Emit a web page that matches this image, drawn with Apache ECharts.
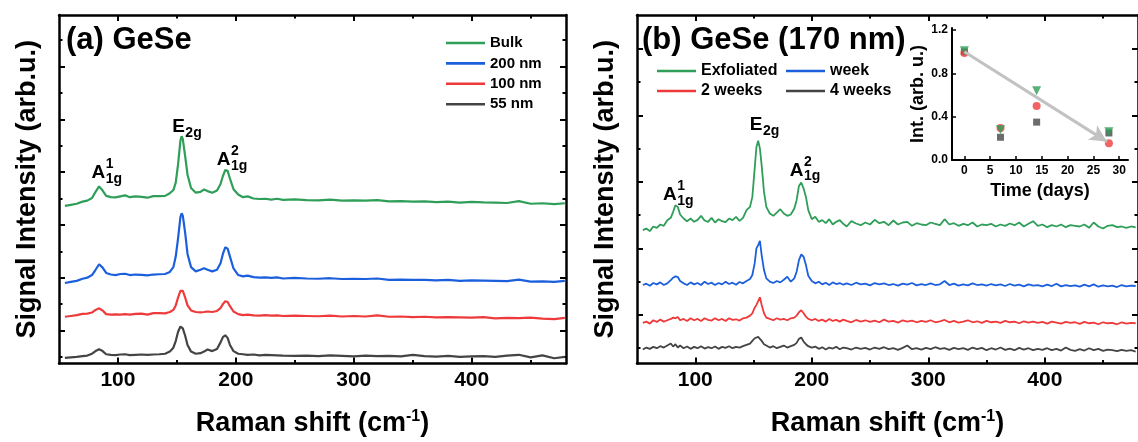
<!DOCTYPE html>
<html><head><meta charset="utf-8">
<script src="https://cdn.jsdelivr.net/npm/echarts@6/dist/echarts.min.js"></script>
<style>html,body{margin:0;padding:0;background:#fff}#c{width:1138px;height:442px}</style>
</head><body><div id="c"></div>
<script>
// ---------- Panel (a) data ----------
const shiftA = [55,60,65,70,74,78,81,84,87,90,94,98,102,106,110,115,120,125,130,135,140,144,147,149,151,153,154,155,157,159,162,166,170,173,176,180,184,187,189,191,193,195,198,202,206,210,215,220,225,230,235,240,250,260,270,280,290,300,310,320,330,340,350,360,370,380,390,400,410,420,430,440,450,460,470,479];
const bulk = [5.72,5.76,5.80,5.88,5.92,6.02,6.25,6.46,6.30,6.10,
6.05,6.04,6.08,6.12,6.05,6.08,6.06,6.03,6.09,6.09,
6.10,6.20,6.32,6.60,7.30,8.20,8.36,8.25,7.60,6.90,
6.40,6.22,6.25,6.34,6.28,6.22,6.30,6.55,6.85,7.08,
7.05,6.75,6.35,6.15,6.05,6.08,6.00,5.98,5.99,5.96,
5.99,5.95,5.97,5.94,5.93,5.96,5.92,5.93,5.92,5.94,
5.89,5.90,5.88,5.89,5.86,5.88,5.84,5.87,5.85,5.84,
5.83,5.90,5.80,5.82,5.79,5.82];
const nm200 = [2.80,2.84,2.88,2.96,3.00,3.10,3.30,3.51,3.38,3.18,
3.12,3.10,3.14,3.15,3.10,3.12,3.11,3.09,3.12,3.13,
3.14,3.22,3.40,3.80,4.50,5.30,5.44,5.35,4.70,3.90,
3.40,3.24,3.30,3.36,3.30,3.24,3.30,3.55,3.90,4.15,
4.10,3.80,3.35,3.10,3.05,3.08,3.02,3.00,3.01,2.99,
3.01,2.97,2.99,2.97,2.96,2.98,2.95,2.96,2.95,2.97,
2.92,2.93,2.92,2.92,2.90,2.92,2.88,2.90,2.89,2.88,
2.87,2.93,2.85,2.86,2.84,2.88];
const nm100 = [1.52,1.55,1.58,1.63,1.64,1.68,1.78,1.84,1.76,1.62,
1.60,1.61,1.60,1.62,1.60,1.63,1.64,1.60,1.66,1.66,
1.65,1.70,1.78,1.95,2.25,2.50,2.54,2.50,2.25,1.95,
1.76,1.70,1.69,1.70,1.72,1.70,1.74,1.85,2.00,2.11,
2.08,1.92,1.72,1.62,1.58,1.60,1.57,1.56,1.58,1.56,
1.57,1.55,1.56,1.55,1.54,1.56,1.53,1.55,1.53,1.57,
1.52,1.53,1.51,1.52,1.50,1.51,1.50,1.49,1.51,1.46,
1.48,1.47,1.49,1.45,1.43,1.48];
const nm55 = [-0.04,-0.02,0.00,0.03,0.05,0.12,0.22,0.29,0.22,0.10,
0.08,0.07,0.09,0.10,0.07,0.08,0.09,0.08,0.09,0.10,
0.12,0.20,0.35,0.60,0.95,1.15,1.15,1.08,0.80,0.45,
0.20,0.12,0.14,0.20,0.28,0.22,0.30,0.55,0.75,0.82,
0.72,0.45,0.22,0.12,0.10,0.08,0.09,0.06,0.08,0.07,
0.06,0.05,0.04,0.05,0.03,0.06,0.04,0.02,0.05,0.03,
0.04,0.02,0.08,0.03,0.01,0.04,0.00,0.02,0.03,0.00,
0.05,0.08,-0.02,0.06,-0.05,0.00];

// ---------- Panel (b) data ----------
const shiftB = [55,58,61,64,67,70,73,76,79,81,
83,85,87,90,93,96,99,102,105,108,
111,114,117,120,123,126,129,132,135,138,
141,144,147,149,151,152.5,154,155.5,157,159,
161,164,167,170,173,176,179,182,185,187,
189,191,193,195,197,200,203,206,209,212,
215,218,221,224,227,230,234,238,242,246,
250,254,258,262,266,270,274,278,282,286,
290,294,298,302,306,310,314,318,322,326,
330,334,338,342,346,350,354,358,362,366,
370,374,378,382,386,390,394,398,402,406,
410,414,418,422,426,430,434,438,442,446,
450,454,458,462,466,470,474,478];
const exfoliated = [3.55,3.60,3.52,3.66,3.62,3.72,3.68,3.85,3.92,4.10,
4.30,4.25,4.02,3.90,3.82,3.90,3.80,3.86,3.98,3.84,
3.80,3.92,3.78,3.88,3.82,3.79,3.90,3.85,3.95,3.83,
3.92,4.15,4.25,4.55,5.40,6.05,6.24,6.00,5.50,4.70,
4.25,4.05,3.98,4.08,4.18,4.05,3.98,4.02,4.20,4.45,
4.88,4.98,4.80,4.55,4.15,3.88,3.95,3.80,3.85,3.76,
3.88,3.72,3.80,3.85,3.74,3.66,3.82,3.75,3.70,3.78,
3.72,3.86,3.76,3.80,3.70,3.84,3.72,3.78,3.80,3.68,
3.76,3.72,3.70,3.78,3.74,3.70,3.88,3.72,3.76,3.68,
3.74,3.70,3.78,3.66,3.72,3.70,3.74,3.66,3.72,3.68,
3.75,3.70,3.78,3.66,3.74,3.82,3.68,3.72,3.64,3.70,
3.66,3.72,3.64,3.70,3.68,3.66,3.72,3.62,3.78,3.66,
3.60,3.68,3.70,3.64,3.66,3.62,3.66,3.63];
const week = [1.90,1.94,1.88,1.96,1.92,1.98,1.90,1.95,2.05,2.12,
2.16,2.14,2.02,1.95,1.90,1.98,1.92,1.96,1.90,2.00,
1.93,1.97,1.90,1.96,1.92,2.00,1.93,1.97,1.91,1.99,
1.95,2.02,2.08,2.20,2.55,3.00,3.10,3.23,2.80,2.35,
2.10,2.00,1.96,2.02,1.98,2.06,2.15,2.00,2.10,2.30,
2.65,2.82,2.75,2.50,2.18,2.02,1.95,2.00,1.92,1.97,
1.90,1.98,1.93,1.96,1.91,1.95,1.90,1.97,1.92,1.94,
1.89,1.96,1.92,1.95,1.90,1.93,1.88,1.94,1.91,1.96,
1.89,1.93,1.90,1.95,1.90,1.92,2.02,1.90,1.94,1.88,
1.92,1.89,1.95,1.90,1.92,1.88,1.93,1.89,1.92,1.87,
1.93,1.88,1.91,1.86,1.92,1.88,1.90,1.86,1.91,1.87,
1.94,1.86,1.90,1.87,1.89,1.85,1.91,1.86,1.92,1.85,
1.89,1.86,1.88,1.84,1.90,1.86,1.88,1.87];
const weeks2 = [0.76,0.80,0.74,0.84,0.79,0.86,0.80,0.84,0.88,0.92,
0.90,0.94,0.84,0.88,0.82,0.90,0.84,0.88,0.82,0.90,
0.85,0.83,0.90,0.84,0.88,0.82,0.90,0.85,0.87,0.83,
0.90,0.92,0.98,1.05,1.22,1.30,1.25,1.53,1.30,1.05,
0.92,0.88,0.84,0.90,0.86,0.88,0.84,0.90,0.92,0.98,
1.08,1.14,1.05,0.95,0.88,0.84,0.88,0.82,0.86,0.80,
0.88,0.82,0.85,0.80,0.86,0.82,0.78,0.85,0.80,0.84,
0.79,0.83,0.78,0.86,0.80,0.82,0.77,0.84,0.80,0.83,
0.78,0.82,0.79,0.84,0.78,0.81,0.85,0.78,0.82,0.77,
0.80,0.84,0.78,0.81,0.76,0.82,0.78,0.80,0.76,0.82,
0.78,0.80,0.75,0.81,0.77,0.80,0.76,0.79,0.74,0.80,
0.77,0.74,0.79,0.76,0.78,0.73,0.79,0.75,0.77,0.72,
0.78,0.75,0.76,0.72,0.78,0.74,0.76,0.75];
const weeks4 = [-0.04,0.02,-0.02,0.04,0.00,0.06,0.02,0.08,0.14,0.05,
0.12,0.02,0.08,0.00,0.05,-0.02,0.04,0.00,0.06,-0.01,
0.03,0.00,0.05,-0.02,0.04,0.01,0.06,0.00,0.04,0.02,
0.06,0.10,0.14,0.22,0.30,0.28,0.34,0.37,0.22,0.12,
0.08,0.02,0.06,0.00,0.04,0.08,0.02,0.06,0.10,0.16,
0.28,0.32,0.20,0.12,0.06,0.02,0.05,-0.02,0.03,-0.04,
0.02,-0.01,0.04,-0.03,0.02,0.00,-0.04,0.02,-0.02,0.01,
-0.04,0.02,-0.02,0.03,-0.03,0.00,-0.05,0.01,0.08,-0.03,
0.00,-0.04,0.01,-0.03,0.03,-0.02,0.00,-0.05,0.01,-0.03,
0.00,-0.05,0.02,-0.03,0.01,-0.06,0.00,-0.04,0.02,-0.05,
-0.01,-0.06,0.01,-0.04,0.00,-0.06,-0.02,-0.05,0.00,-0.06,
-0.02,-0.07,0.02,-0.05,-0.08,-0.03,-0.07,0.00,-0.06,-0.02,
-0.08,-0.04,-0.06,-0.09,-0.05,-0.08,-0.06,-0.10];

// ---------- Inset data ----------
const days = [0, 7, 14, 28];
const intSquare = [1.00, 0.21, 0.35, 0.25];
const intCircle = [0.99, 0.295, 0.50, 0.155];
const intTriangle = [1.01, 0.28, 0.64, 0.26];
const arrowFrom = [0, 1.0];
const arrowTo = [27.6, 0.17];

// ---------- Tick labels ----------
const xMajor = [100, 200, 300, 400];
const xMinor = [150, 250, 350, 450];
const yMajorA = [1, 3, 5, 7, 9, 11];
const yMinorA = [0, 2, 4, 6, 8, 10, 12];
const yMajorB = [1, 3, 5, 7, 9];
const yMinorB = [0, 2, 4, 6, 8];
const dayTicks = [0, 5, 10, 15, 20, 25, 30];
const intTicks = [0, 0.4, 0.8, 1.2];

// ---------- Styles ----------
const FONT = "'Liberation Sans', Arial, Helvetica, sans-serif";
const BLACK = '#000';
const COL = {green: '#2f9e58', blue: '#1c5fdc', red: '#ee3a3a', gray: '#444444'};

function ax(o) {
  return {
    type: 'value', gridIndex: o.grid, position: o.pos, min: o.min, max: o.max,
    splitLine: {show: false}, silent: true,
    axisLine: {show: o.line, onZero: false, lineStyle: {color: BLACK, width: o.lw || 2.5}},
    axisTick: {show: true, inside: true, length: o.len, customValues: o.ticks, lineStyle: {color: BLACK, width: o.tw || 2}},
    axisLabel: o.labels ? Object.assign({show: true, customValues: o.labels, color: BLACK, fontFamily: FONT, fontWeight: 'bold'}, o.labelStyle) : {show: false},
    name: o.name || '', nameLocation: 'middle', nameGap: o.nameGap || 0, nameTextStyle: o.nameStyle || {},
    axisPointer: {show: false}
  };
}
const bigName = {fontSize: 27, fontWeight: 'bold', fontFamily: FONT, color: BLACK};
const xNameStyle = {rich: {
  n: {fontSize: 27, fontWeight: 'bold', fontFamily: FONT, color: BLACK, lineHeight: 30},
  s: {fontSize: 16, fontWeight: 'bold', fontFamily: FONT, color: BLACK, lineHeight: 16, verticalAlign: 'top'}
}};
const xName = '{n|Raman shift (cm}{s|-1}{n|)}';

function panelX(g) {
  return [
    ax({grid: g, pos: 'bottom', min: 50, max: 480, line: true, ticks: xMajor, len: 6, labels: xMajor,
        labelStyle: {fontSize: 21, margin: 6}, name: xName, nameGap: 45, nameStyle: xNameStyle}),
    ax({grid: g, pos: 'bottom', min: 50, max: 480, line: false, ticks: xMinor, len: 3.5}),
    ax({grid: g, pos: 'top', min: 50, max: 480, line: true, ticks: xMajor, len: 6}),
    ax({grid: g, pos: 'top', min: 50, max: 480, line: false, ticks: xMinor, len: 3.5})
  ];
}
function panelY(g, min, max, maj, mnr, gap) {
  return [
    ax({grid: g, pos: 'left', min, max, line: true, ticks: maj, len: 6,
        name: 'Signal Intensity (arb.u.)', nameGap: gap, nameStyle: bigName}),
    ax({grid: g, pos: 'left', min, max, line: false, ticks: mnr, len: 3.5}),
    ax({grid: g, pos: 'right', min, max, line: true, ticks: maj, len: 6}),
    ax({grid: g, pos: 'right', min, max, line: false, ticks: mnr, len: 3.5})
  ];
}
const pair = (xs, ys) => xs.map((x, i) => [x, ys[i]]);
function spec(name, xs, ys, color, axisIdx, w) {
  return {type: 'line', name, xAxisIndex: axisIdx, yAxisIndex: axisIdx, data: pair(xs, ys),
    showSymbol: false, symbol: 'none', smooth: false, silent: true,
    lineStyle: {color, width: w}, itemStyle: {color}, z: 3};
}
const legendBase = {orient: 'vertical', icon: 'rect', itemWidth: 39, itemHeight: 2.6, padding: 0,
  selectedMode: false};

const option = {
  animation: false,
  backgroundColor: '#fff',
  grid: [
    {left: 59, top: 15, width: 507, height: 359},
    {left: 637, top: 15, width: 507, height: 360},
    {left: 952, top: 28, width: 176, height: 132}
  ],
  xAxis: [
    ...panelX(0), ...panelX(1),
    ax({grid: 2, pos: 'bottom', min: -2.4, max: 31.7, line: true, lw: 2, ticks: dayTicks, len: 4, tw: 1.5, labels: dayTicks,
        labelStyle: {fontSize: 12, margin: 5}, name: 'Time (days)', nameGap: 22,
        nameStyle: {fontSize: 18, fontWeight: 'bold', fontFamily: FONT, color: BLACK}})
  ],
  yAxis: [
    ...panelY(0, -0.25, 12.95, yMajorA, yMinorA, 18),
    ...panelY(1, -0.46, 10.02, yMajorB, yMinorB, 18),
    ax({grid: 2, pos: 'left', min: 0, max: 1.22, line: true, lw: 2, ticks: intTicks, len: 4, tw: 1.5, labels: intTicks,
        labelStyle: {fontSize: 12, margin: 4, formatter: v => Number(v).toFixed(1)}, name: 'Int. (arb. u.)', nameGap: 25,
        nameStyle: {fontSize: 18, fontWeight: 'bold', fontFamily: FONT, color: BLACK}})
  ],
  legend: [
    Object.assign({}, legendBase, {data: ['Bulk', '200 nm', '100 nm', '55 nm'], left: 446, top: 35, itemGap: 4.4,
      textStyle: {fontSize: 15, fontWeight: 'bold', fontFamily: FONT, color: BLACK, lineHeight: 16}}),
    Object.assign({}, legendBase, {data: ['Exfoliated', '2 weeks'], left: 657, top: 63, itemGap: 4,
      textStyle: {fontSize: 16, fontWeight: 'bold', fontFamily: FONT, color: BLACK, lineHeight: 16}}),
    Object.assign({}, legendBase, {data: ['week', '4 weeks'], left: 786, top: 63, itemGap: 4,
      textStyle: {fontSize: 16, fontWeight: 'bold', fontFamily: FONT, color: BLACK, lineHeight: 16}})
  ],
  series: [
    spec('Bulk', shiftA, bulk, COL.green, 0, 2.2),
    spec('200 nm', shiftA, nm200, COL.blue, 0, 2.2),
    spec('100 nm', shiftA, nm100, COL.red, 0, 2.2),
    spec('55 nm', shiftA, nm55, COL.gray, 0, 2.2),
    spec('Exfoliated', shiftB, exfoliated, COL.green, 4, 1.8),
    spec('week', shiftB, week, COL.blue, 4, 1.8),
    spec('2 weeks', shiftB, weeks2, COL.red, 4, 1.8),
    spec('4 weeks', shiftB, weeks4, COL.gray, 4, 1.8),
    {type: 'line', name: 'trend', xAxisIndex: 8, yAxisIndex: 8, data: [arrowFrom, arrowTo], showSymbol: false,
     symbol: 'none', lineStyle: {opacity: 0}, silent: true,
     markLine: {silent: true, animation: false, symbol: ['none', 'arrow'], symbolSize: [13, 17],
       label: {show: false}, emphasis: {disabled: true},
       lineStyle: {color: '#c2c2c2', width: 3, type: 'solid'},
       data: [[{coord: arrowFrom}, {coord: arrowTo}]]}},
    {type: 'scatter', name: 'sq', xAxisIndex: 8, yAxisIndex: 8, data: pair(days, intSquare), symbol: 'rect',
     symbolSize: 7, itemStyle: {color: '#474747'}, silent: true, z: 4},
    {type: 'scatter', name: 'ci', xAxisIndex: 8, yAxisIndex: 8, data: pair(days, intCircle), symbol: 'circle',
     symbolSize: 8, itemStyle: {color: '#f03c3c'}, silent: true, z: 4},
    {type: 'scatter', name: 'tr', xAxisIndex: 8, yAxisIndex: 8, data: pair(days, intTriangle), symbol: 'triangle',
     symbolRotate: 180, symbolSize: 9, itemStyle: {color: '#2f9e58'}, silent: true, z: 4}
  ]
};

const chart = echarts.init(document.getElementById('c'), null, {renderer: 'canvas', width: 1138, height: 442});
chart.setOption(option);

// ---------- Text annotations ----------
const peakLabelsA = [
  {main: 'A', sup: '1', sub: '1g', at: [77.6, 6.72]},
  {main: 'E', sub: '2g', at: [146, 8.47]},
  {main: 'A', sup: '2', sub: '1g', at: [183.8, 7.22]}
];
const peakLabelsB = [
  {main: 'A', sup: '1', sub: '1g', at: [72.4, 4.42]},
  {main: 'E', sub: '2g', at: [146.8, 6.53]},
  {main: 'A', sup: '2', sub: '1g', at: [181.2, 5.15]}
];
const MAIN = 19, SMALL = 14;
function txt(x, y, s, size) {
  return {type: 'text', x, y, silent: true, z: 10,
    style: {text: s, font: `bold ${size}px ${FONT}`, fill: BLACK, verticalAlign: 'middle', align: 'left'}};
}
function peakEls(lbl, idx) {
  const p = chart.convertToPixel({xAxisIndex: idx, yAxisIndex: idx}, lbl.at);
  const base = p[1];
  const w = (lbl.main === 'A' ? 0.722 : 0.667) * MAIN + 0.5;
  const els = [txt(p[0], base - 0.3465 * MAIN, lbl.main, MAIN)];
  if (lbl.sup) els.push(txt(p[0] + w, base - 10 - 0.3465 * SMALL, lbl.sup, SMALL));
  if (lbl.sub) els.push(txt(p[0] + w, base + 4.5 - 0.3465 * SMALL, lbl.sub, SMALL));
  return els;
}
const graphics = [];
peakLabelsA.forEach(l => graphics.push(...peakEls(l, 0)));
peakLabelsB.forEach(l => graphics.push(...peakEls(l, 4)));
graphics.push(txt(66, 40, '(a) GeSe', 31));
graphics.push(txt(642, 40, '(b) GeSe (170 nm)', 31));
chart.setOption({graphic: graphics});
</script>
</body></html>
